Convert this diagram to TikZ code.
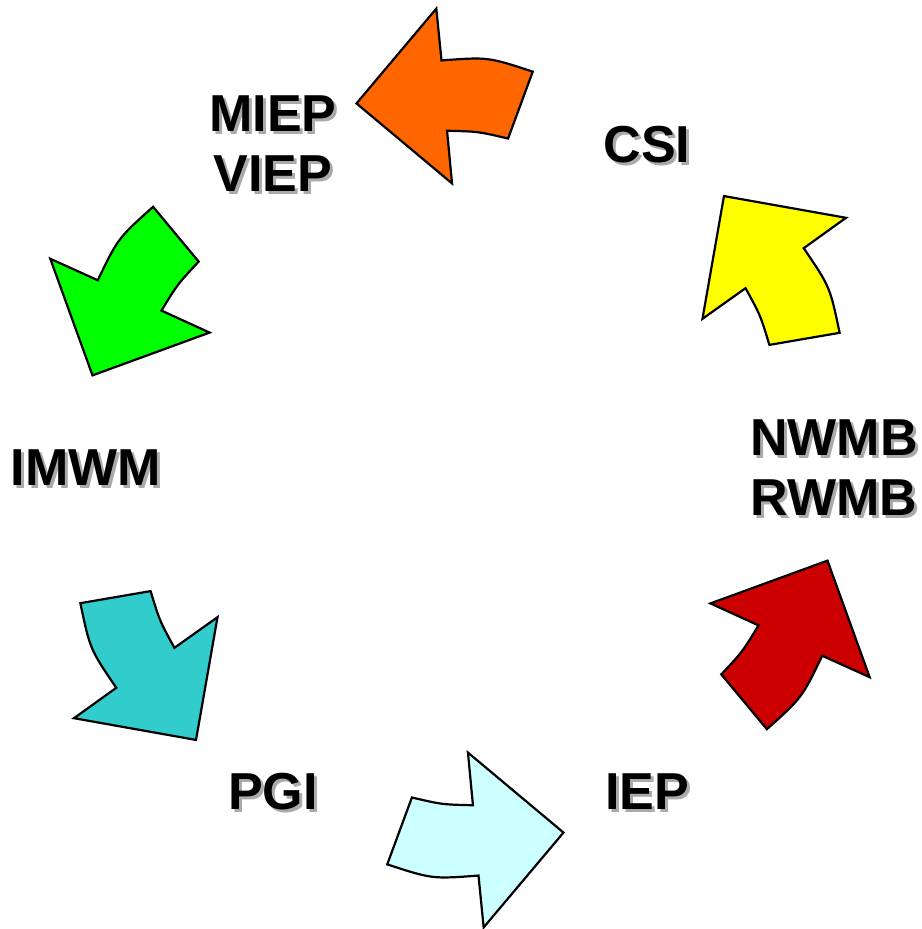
\documentclass[tikz,border=0pt]{standalone}
\usepackage{fontspec}
\setmainfont{Liberation Sans}
\usetikzlibrary{positioning}
\definecolor{arrowyellow}{HTML}{FFFF00}
\definecolor{arroworange}{HTML}{FF6600}
\definecolor{arrowgreen}{HTML}{00FF00}
\definecolor{arrowteal}{HTML}{33CCCC}
\definecolor{arrowcyan}{HTML}{CCFFFF}
\definecolor{arrowred}{HTML}{CC0000}
\definecolor{shadowgray}{HTML}{AAAAAA}
\tikzset{
    cycle text/.style={font=\bfseries\fontsize{52}{60}\selectfont, align=center, inner sep=0pt},
    cycle shadow/.style={cycle text, text=shadowgray},
    cycle arrow/.style={draw=black, line width=2.2pt, line join=miter}
}
% label with its grey shadow: name, angle, text
\newcommand{\cyclelabel}[3]{%
    \node[cycle shadow] (#1-shadow) at ([shift={(3,-3)}]#2:374) {#3};
    \node[cycle text] (#1) at (#2:374) {#3};
}

\begin{document}
\begin{tikzpicture}[x=1pt,y=1pt]
    \useasboundingbox (-460,-461) rectangle (461,468);
    % curved block arrows, one between each pair of labels
    \foreach \a/\c in {0/arrowyellow, 60/arroworange, 120/arrowgreen,
                       180/arrowteal, 240/arrowcyan, 300/arrowred}{
        \begin{scope}[rotate=\a]
            \draw[cycle arrow, fill=\c] (19.6:403) .. controls (26.1:412) .. (32.6:408)
                -- (32.95:460) -- (45.85:379) -- (31.6:284.7) -- (32.2:337.5)
                .. controls (26.95:337) .. (21.7:333) -- cycle;
        \end{scope}
    }
    % labels
    \cyclelabel{nwmb}{0}{NWMB\\RWMB}
    \cyclelabel{csi}{60}{CSI}
    \cyclelabel{miep}{120}{MIEP\\VIEP}
    \cyclelabel{imwm}{180}{IMWM}
    \cyclelabel{pgi}{240}{PGI}
    \cyclelabel{iep}{300}{IEP}
\end{tikzpicture}
\end{document}
